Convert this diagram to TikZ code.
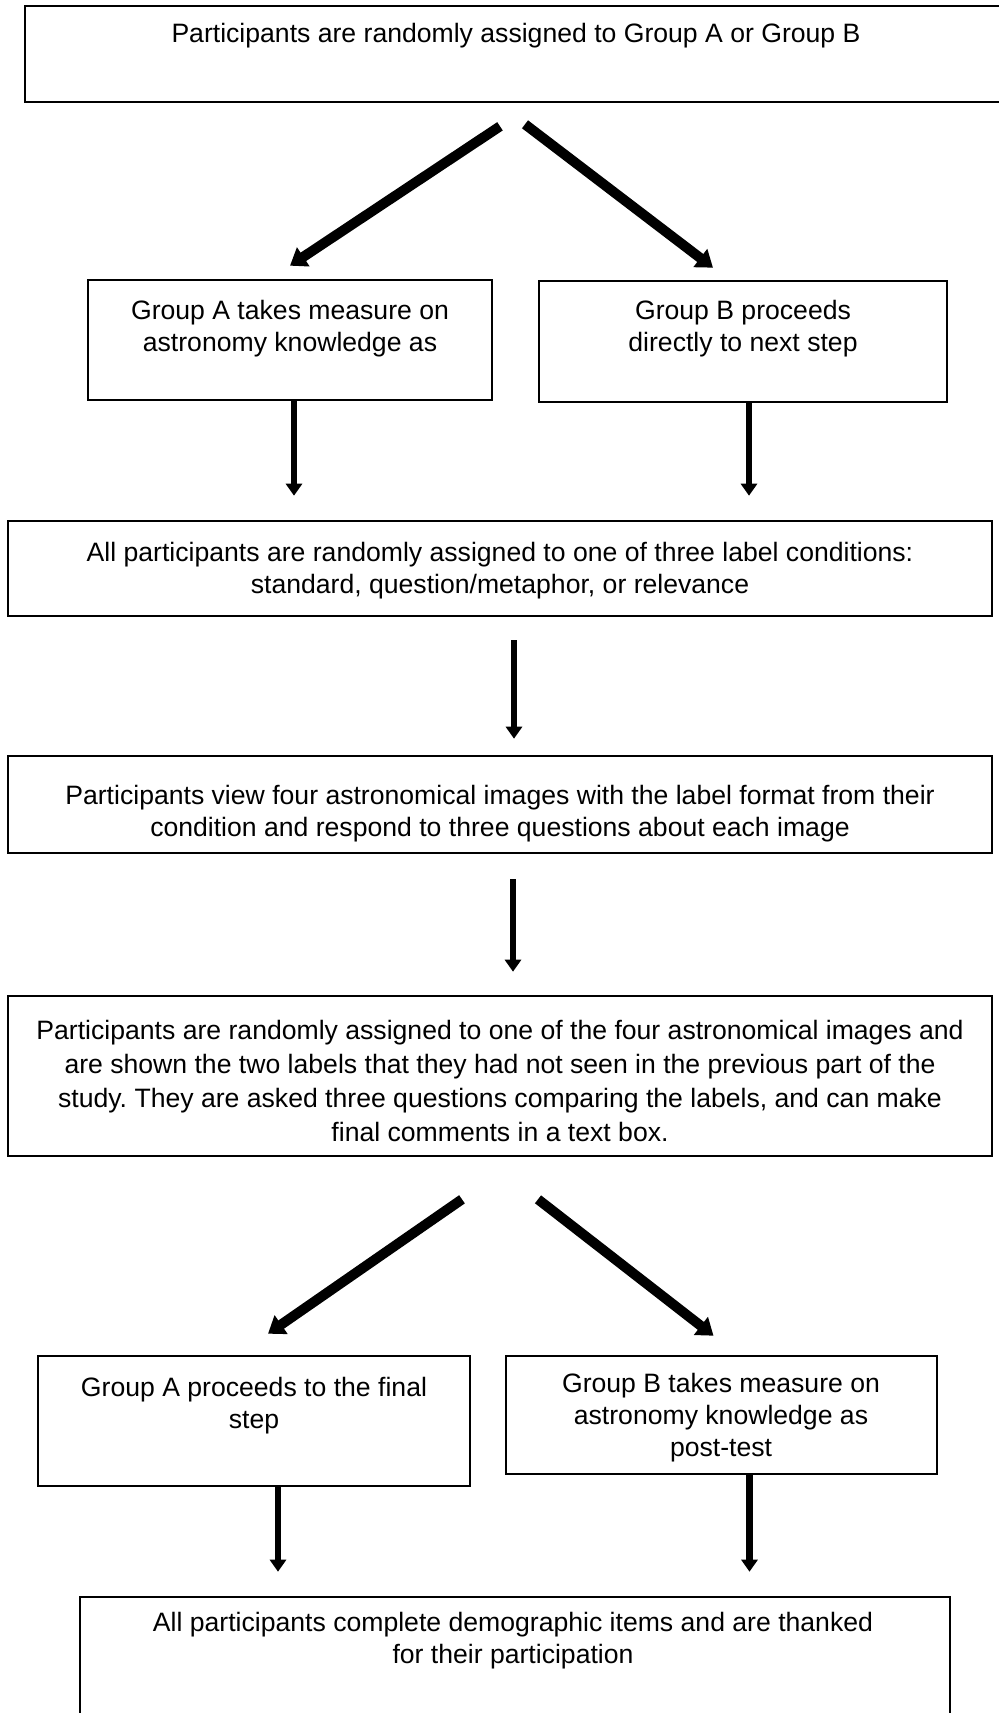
\documentclass[tikz,border=0pt]{standalone}
\usepackage{fontspec}
\setmainfont{Liberation Sans}
\usetikzlibrary{arrows.meta,positioning,calc,fit}
\frenchspacing

\begin{document}
\begin{tikzpicture}[
  x=0.5pt, y=-0.5pt,
  every node/.style={font=\fontsize{13.3}{16}\selectfont},
  box/.style={draw, line width=1.3pt, inner sep=0pt},
  txt/.style={anchor=north, align=center, inner sep=0pt},
  fork/.style={-{Triangle[width=11pt,length=8pt]}, line width=5pt},
  down/.style={-{Triangle[width=8pt,length=6pt]}, line width=3.3pt}
]
\useasboundingbox (0,0) rectangle (999,1713);
% boxes
\node[box, fit={(25,6) (1007,102)}] (assign) {};
\node[box, fit={(88,280) (492,400)}] (ga) {};
\node[box, fit={(539,281) (947,402)}] (gb) {};
\node[box, fit={(8,521) (992,616)}] (cond) {};
\node[box, fit={(8,756) (992,853)}] (view) {};
\node[box, fit={(8,996) (992,1156)}] (images) {};
\node[box, fit={(38,1356) (470,1486)}] (ga2) {};
\node[box, fit={(506,1356) (937,1474)}] (gb2) {};
\node[box, fit={(80,1597) (950,1740)}] (thanks) {};
% texts
\node[txt] (t1) at (516,23) {Participants are randomly assigned to Group A or Group B};
\node[txt] (ta) at (290,300) {Group A takes measure on\\astronomy knowledge as};
\node[txt] (tb) at (743,300) {Group B proceeds\\directly to next step};
\node[txt] (t3) at (500,542) {All participants are randomly assigned to one of three label conditions:\\standard, question/metaphor, or relevance};
\node[txt] (t4) at (500,785) {Participants view four astronomical images with the label format from their\\condition and respond to three questions about each image};
\node[txt, font=\fontsize{13.3}{17}\selectfont] (t5) at (500,1020) {Participants are randomly assigned to one of the four astronomical images and\\are shown the two labels that they had not seen in the previous part of the\\study. They are asked three questions comparing the labels, and can make\\final comments in a text box.};
\node[txt] (ta2) at (254,1377) {Group A proceeds to the final\\step};
\node[txt] (tb2) at (721,1373) {Group B takes measure on\\astronomy knowledge as\\post-test};
\node[txt] (t6) at (513,1612) {All participants complete demographic items and are thanked\\for their participation};
% arrows
\draw[fork] ($(assign.south)+(-16,23)$) -- ($(ga.north)+(0,-13)$);
\draw[fork] ($(assign.south)+(9,21)$) -- ($(gb.north)+(-30,-12)$);
\draw[down] ($(ga.south)+(4,0)$) -- ($(ga.south |- cond.north)+(4,-24)$);
\draw[down] ($(gb.south)+(6,0)$) -- ($(gb.south |- cond.north)+(6,-24)$);
\draw[down] ($(cond.south)+(14,23)$) -- ($(view.north)+(14,-16)$);
\draw[down] ($(view.south)+(13,25)$) -- ($(images.north)+(13,-23)$);
\draw[fork] ($(images.south)+(-38,42)$) -- ($(ga2.north)+(14,-21)$);
\draw[fork] ($(images.south)+(38,42)$) -- ($(gb2.north)+(-8,-19)$);
\draw[down] ($(ga2.south)+(24,0)$) -- ($(ga2.south |- thanks.north)+(24,-24)$);
\draw[down] ($(gb2.south)+(28,0)$) -- ($(gb2.south |- thanks.north)+(28,-24)$);
\end{tikzpicture}
\end{document}
